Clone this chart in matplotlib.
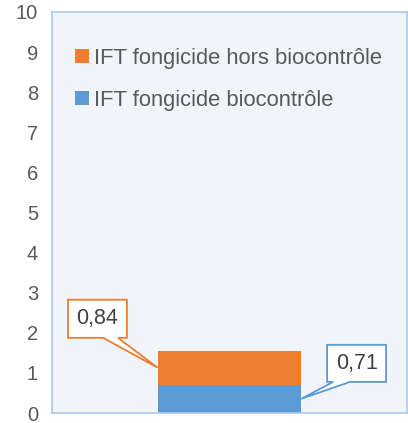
import numpy as np
import matplotlib.pyplot as plt
from matplotlib.patches import Polygon

plt.rcParams['font.family'] = ['Liberation Sans', 'DejaVu Sans']

series = ['IFT fongicide biocontrôle', 'IFT fongicide hors biocontrôle']
values = [0.71, 0.84]
labels = ['0,71', '0,84']
colors = ['#5B9BD5', '#ED7D31']
yticks = list(range(0, 11))

fig = plt.figure(figsize=(4.08, 4.23), dpi=100)
ax = fig.add_axes([52/408, 10/423, 355/408, 401/423])
ax.set_facecolor('#F1F5FA')

x = 0.0
w = 0.405
bottom = 0
handles = []
for name, v, c in zip(series, values, colors):
    b = ax.bar(x, v, width=w, bottom=bottom, color=c, label=name)
    handles.append(b)
    bottom += v

ax.set_xlim(-0.5, 0.5)
ax.set_ylim(0, 10)
ax.set_yticks(yticks)
ax.set_yticklabels([str(t) for t in yticks], fontsize=14.5, color='#595959')
ax.set_xticks([])
ax.tick_params(axis='y', length=0, pad=10)
for s in ax.spines.values():
    s.set_color('#A9CBEB')
    s.set_linewidth(1.2)

# callouts
def callout(bx0, bx1, by0, by1, wx0, wx1, tip, col, txt):
    pts = [(bx0, by1), (bx1, by1), (bx1, by0), (wx1, by0), tip, (wx0, by0), (bx0, by0)]
    ax.add_patch(Polygon(pts, closed=True, facecolor='white', edgecolor=col,
                         linewidth=1.3, zorder=5, clip_on=False))
    ax.text((bx0 + bx1) / 2, (by0 + by1) / 2, txt, ha='center', va='center',
            fontsize=15.5, color='#404040', zorder=6)

mid_blue = values[0] / 2
mid_orange = values[0] + values[1] / 2
callout(-0.455, -0.289, 1.875, 2.825, -0.356, -0.314, (x - w/2, mid_orange), colors[1], labels[1])
callout(0.275, 0.441, 0.775, 1.70, 0.292, 0.339, (x + w/2, mid_blue), colors[0], labels[0])

leg = ax.legend(handles[::-1], series[::-1], loc='upper left',
                bbox_to_anchor=(0.008, 0.96), frameon=False, fontsize=15.8,
                handlelength=0.65, handleheight=0.65, handletextpad=0.25,
                labelspacing=0.95, labelcolor='#595959')

fig.savefig('out.png', dpi=100)
